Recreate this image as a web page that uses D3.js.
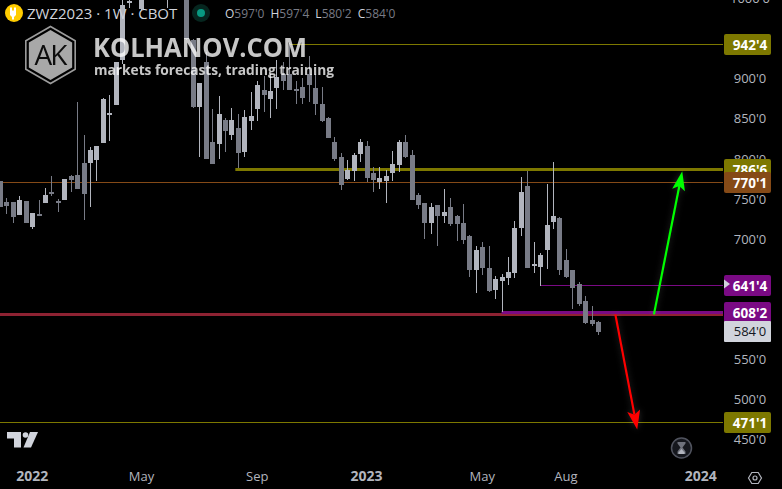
<!DOCTYPE html>
<head>
<meta charset="utf-8">
<style>
body, html { margin: 0; padding: 0; background: #000; overflow: hidden; }
svg { display: block; }
text { font-family: "Open Sans", sans-serif; }
.price-axis text { fill: #b2b5be; font-size: 13px; }
.time-axis text { fill: #b2b5be; font-size: 13px; }
.time-axis text.year { font-weight: 700; font-size: 14px; }
.level-tag text { font-size: 13.5px; font-weight: 700; fill: #fff; text-anchor: middle; }
.ohlc { font-size: 12px; fill: #787b86; }
.ohlc .k { fill: #d1d4dc; }
.title { font-size: 15px; fill: #d1d4dc; }
</style>
<script src="https://d3js.org/d3.v7.min.js"></script>
</head>
<body>
<script>

// weekly candles, prices in cents (decimal, the axis prints eighths)
var opens = [772.5,746.25,746.25,730,747.5,715,731.25,745,758.75,747.5,748.75,778.75,780,795,795,798.75,820,855,867.5,923.75,996.25,1006.25,986.25,1060,1100,1170,1040,1130,1080,1040,948.75,865,921.25,821.25,818.75,848.75,830,838.75,808.75,847.5,862.5,886.25,875,888.75,906.25,906.25,887.5,890,906.25,888.75,868.75,851.25,821.25,802.5,775,785,806.25,816.25,782.5,771.25,772.5,782.5,792.5,821.25,805,755,745,720,742.5,728.75,740,728.75,720,703.75,661.25,690,663.75,636.25,647.5,651.25,657.5,713.75,766.25,666.25,665,686.25,721.25,726.25,673.75,661.25,643.75,622.5,598.75,597];
var highs = [772.5,751.25,746.25,753.75,747.5,732.5,748.75,763.75,778.75,750,775,780,871.25,830,815,816.25,876.25,880,921.25,1000,1005,1060,1050,1130,1180,1200,1140,1140,1110,1060,950,895,933.75,862.5,878.75,851.25,863.75,856.25,861.25,883.75,897.5,903.75,906.25,923.75,921.25,945,897.5,901.25,928.75,906.25,890,852.5,827.5,807.5,798.75,807.5,825,822.5,790,790,786.25,810,823.75,830,811.25,757.5,745,745,742.5,762.5,751.25,730,743.75,705,691.25,696.25,691.25,653.75,656.25,677.5,722.5,777.5,785,696.25,682.5,768.75,796.25,727.5,687.5,661.25,646.25,628.75,616.25,597.5];
var lows = [740,731.25,720,730,720,712.5,730,745,753.75,733.75,748.75,758.75,762.5,723.75,740,772.5,820,822.5,867.5,918.75,988.75,1003,986.25,1020,1060,1090,988.75,1030,1020,948.75,863.75,802.5,800,793.75,800,808.75,823.75,788.75,802.5,836.25,847.5,858.75,851.25,862.5,886.25,886.25,868.75,868.75,871.25,855,846.25,826.25,797.5,761.25,773.75,772.5,796.25,771.25,758.75,762.5,745,772.5,783.75,801.25,748.75,737.5,700,706.25,691.25,720,716.25,697.5,693.75,652.5,632.5,655,633.75,625,608.75,642.5,651.25,703.75,663.75,657.5,641.25,662.5,712.5,655,651.25,612.5,616.25,593.75,591.25,580.25];
var closes = [740,741.25,727.5,748.75,720,732.5,730,755,756.25,745,775,773.75,762.5,756.25,811.25,816.25,875,857.5,921.25,992.5,997.5,1048.75,1036.25,1100,1160,1110,1120,1050,1040,948.75,865,895,800,793.75,856.25,835,848.75,807.5,852.5,853.75,892.5,880,885,902.5,897.5,886.25,885,876.25,892.5,868.75,847.5,826.25,800,767.5,786.25,805,821.25,776.25,773.75,776.25,778.75,793.75,821.25,802.5,748.75,742.5,720,740,728.75,733.75,718.75,718.75,698.75,661.25,686.25,663.75,635,650,652.5,658.75,713.75,758.75,663.75,668.75,680,717.5,728.75,661.25,652.5,638.75,618.75,595,593.75,584];

var priceTicks = [1000,950,900,850,800,750,700,650,550,500,450];
var timeTicks = ["2022","May","Sep","2023","May","Aug","2024"];
var timeTickWeeks = [5,22,40,57,75,88,109];

// drawn levels: price, tag text, colour, line weight, first week
var levelPrices = [942.5,786.75,770.125,641.5,605.8,608.25,471.125];
var levelLabels = ["942'4","786'6","770'1","641'4","","608'2","471'1"];
var levelColors = ["#7d7800","#7d7800","#854a17","#7a0a84","#8e2232","#7a0a84","#7d7800"];
var levelWeights = [1,3,1,1,3,3,1];
var levelStarts = [45,36.6,-1,84,-1,78,-1];

var upArrow = {from: [101.7, 606], to: [106.1, 784.5]};
var downArrow = {from: [95.7, 606], to: [99.1, 462.5]};

var lastPrice = 584;

//==========================================
var width = 782,
    height = 489,
    axisLeft = 723,
    timeTop = 461;

var svg = d3.select("body").append("svg")
    .attr("width", width)
    .attr("height", height);

var x = d3.scaleLinear().domain([0, 93]).range([0, 598]);
var y = d3.scaleLinear().domain([450, 900]).range([439.4, 78.7]);

var defs = svg.append("defs");
defs.append("clipPath").attr("id", "pane")
  .append("rect").attr("width", axisLeft).attr("height", timeTop);

var pane = svg.append("g").attr("clip-path", "url(#pane)");

//--------------------------------------
// level lines, under the candles
pane.selectAll("line.level")
    .data(d3.range(levelPrices.length))
  .enter().append("line")
    .attr("class", "level")
    .attr("x1", function(i) { return levelStarts[i] < 0 ? 0 : x(levelStarts[i]); })
    .attr("x2", axisLeft)
    .attr("y1", function(i) { return Math.floor(y(levelPrices[i])) + 0.5; })
    .attr("y2", function(i) { return Math.floor(y(levelPrices[i])) + 0.5; })
    .attr("stroke", function(i) { return levelColors[i]; })
    .attr("stroke-width", function(i) { return levelWeights[i]; });

//--------------------------------------
// candles
var candles = pane.selectAll("g.candle")
    .data(d3.range(opens.length))
  .enter().append("g")
    .attr("class", "candle")
    .attr("fill", function(i) { return closes[i] >= opens[i] ? "#b2b5be" : "#787b86"; });

candles.append("rect")
    .attr("x", function(i) { return Math.round(x(i)); })
    .attr("width", 1)
    .attr("y", function(i) { return Math.round(y(highs[i])); })
    .attr("height", function(i) { return Math.round(y(lows[i])) - Math.round(y(highs[i])); });

candles.append("rect")
    .attr("x", function(i) { return Math.round(x(i)) - 2; })
    .attr("width", 5)
    .attr("y", function(i) { return Math.round(y(Math.max(opens[i], closes[i]))); })
    .attr("height", function(i) { return Math.max(2, Math.round(Math.abs(y(opens[i]) - y(closes[i])))); });

//--------------------------------------
// arrows, barbed head with a faint glow
function drawArrow(a, color) {
  var x0 = x(a.from[0]), y0 = y(a.from[1]), x1 = x(a.to[0]), y1 = y(a.to[1]);
  var ang = Math.atan2(y1 - y0, x1 - x0);
  var len = 19, half = 6.5, notch = 15;
  var cos = Math.cos(ang), sin = Math.sin(ang);
  var bx = x1 - len * cos, by = y1 - len * sin;
  var g = pane.append("g").style("filter", "drop-shadow(0 0 3px rgba(255,255,255,.18))");
  g.append("line")
      .attr("x1", x0).attr("y1", y0).attr("x2", x1 - notch * cos).attr("y2", y1 - notch * sin)
      .attr("stroke", color).attr("stroke-width", 2.2);
  g.append("path")
      .attr("fill", color)
      .attr("d", "M" + x1 + "," + y1 +
        "L" + (bx - half * sin) + "," + (by + half * cos) +
        "L" + (x1 - notch * cos) + "," + (y1 - notch * sin) +
        "L" + (bx + half * sin) + "," + (by - half * cos) + "Z");
}
drawArrow(upArrow, "#00ff00");
drawArrow(downArrow, "#ff0000");

//--------------------------------------
// price axis
var priceAxis = d3.axisRight(y)
    .tickValues(priceTicks)
    .tickSize(0)
    .tickPadding(0)
    .tickFormat(function(d) { return d + "'0"; });

svg.append("g")
    .attr("class", "price-axis")
    .attr("transform", "translate(" + 750 + ",0)")
    .call(priceAxis)
    .call(function(g) { g.select(".domain").remove(); })
    .selectAll("text").attr("text-anchor", "middle");

//--------------------------------------
// time axis
var timeAxis = svg.append("g").attr("class", "time-axis");
timeAxis.selectAll("text")
    .data(d3.range(timeTicks.length))
  .enter().append("text")
    .attr("class", function(i) { return /^\d/.test(timeTicks[i]) ? "year" : null; })
    .attr("x", function(i) { return x(timeTickWeeks[i]); })
    .attr("y", 481)
    .attr("text-anchor", "middle")
    .text(function(i) { return timeTicks[i]; });

//--------------------------------------
// tags on the price scale
var tags = svg.selectAll("g.level-tag")
    .data(d3.range(levelPrices.length).filter(function(i) { return levelLabels[i]; }))
  .enter().append("g")
    .attr("class", "level-tag")
    .attr("transform", function(i) { return "translate(724," + (Math.floor(y(levelPrices[i])) - 10) + ")"; });

tags.append("rect")
    .attr("width", 47).attr("height", 21).attr("rx", 2)
    .attr("fill", function(i) { return levelColors[i]; });

tags.append("text")
    .attr("x", 26).attr("y", 15.5)
    .text(function(i) { return levelLabels[i]; });

// alert notch on the 641'4 tag
svg.append("path")
    .attr("fill", "#d1d4dc")
    .attr("d", "M724," + (y(641.5) - 6.5) + "l6,4.5l-6,4.5Z");

var lastTag = svg.append("g")
    .attr("transform", "translate(724," + (Math.floor(y(lastPrice)) - 10) + ")");
lastTag.append("rect")
    .attr("width", 47).attr("height", 21).attr("rx", 1).attr("fill", "#d1d4dc");
lastTag.append("text")
    .attr("x", 26).attr("y", 15).attr("text-anchor", "middle")
    .attr("font-size", 13).attr("fill", "#131722")
    .text("584'0");

//--------------------------------------
// header
svg.append("circle").attr("cx", 14).attr("cy", 13).attr("r", 9).attr("fill", "#ffcc00");
svg.append("path").attr("fill", "#fff")
    .attr("d", "M11,7.5h1v3h2v-3h1v0h1v3.5v4l-2,2v2.5h-2v-2.5l-2,-2v-4v-3.5Z");
svg.append("text").attr("class", "title").attr("x", 27).attr("y", 19)
    .text("ZWZ2023 · 1W · CBOT");

svg.append("circle").attr("cx", 201).attr("cy", 13).attr("r", 9).attr("fill", "#06261f");
svg.append("circle").attr("cx", 201).attr("cy", 13).attr("r", 4).attr("fill", "#089981");

var ohlc = svg.append("text").attr("class", "ohlc").attr("x", 225).attr("y", 18);
[["O","597'0"],["H","597'4"],["L","580'2"],["C","584'0"]].forEach(function(p, i) {
  ohlc.append("tspan").attr("class", "k").attr("dx", i ? 6 : 0).text(p[0]);
  ohlc.append("tspan").text(p[1]);
});

//--------------------------------------
// watermark
var hex = function(r) {
  return d3.range(6).map(function(k) {
    var a = Math.PI / 3 * k - Math.PI / 2;
    return [50.5 + r * Math.cos(a), 55 + r * Math.sin(a)].join(",");
  }).join(" ");
};
var mark = svg.append("g").attr("opacity", 0.78);
mark.append("polygon").attr("points", hex(28.5)).attr("fill", "none").attr("stroke", "#c8c8c8").attr("stroke-width", 1.6);
mark.append("polygon").attr("points", hex(25)).attr("fill", "#d8d8d8");
mark.append("text").attr("x", 50).attr("y", 65).attr("text-anchor", "middle")
    .attr("font-size", 28).attr("letter-spacing", -2).attr("fill", "#111").text("AK");
mark.append("text").attr("x", 93).attr("y", 57)
    .attr("font-size", 26).attr("font-weight", 700)
    .attr("textLength", 214).attr("lengthAdjust", "spacingAndGlyphs")
    .attr("fill", "#fff").text("KOLHANOV.COM");
mark.append("text").attr("x", 94).attr("y", 75)
    .attr("font-size", 14.5).attr("font-weight", 700)
    .attr("textLength", 240).attr("lengthAdjust", "spacingAndGlyphs")
    .attr("fill", "#fff").text("markets forecasts, trading training");

//--------------------------------------
// small logo and corner icons
svg.append("path").attr("fill", "#d1d4dc")
    .attr("d", "M7,432h14v15.5h-7v-9h-7Z");
svg.append("circle").attr("cx", 25.5).attr("cy", 435).attr("r", 2.8).attr("fill", "#d1d4dc");
svg.append("path").attr("fill", "#d1d4dc").attr("d", "M30,432h8l-7,15.5h-7.5Z");

svg.append("circle").attr("cx", 681.5).attr("cy", 448).attr("r", 10).attr("fill", "#15171d").attr("stroke", "#50535e").attr("stroke-width", 1.5);
svg.append("path").attr("fill", "#6f727c").attr("d", "M677.5,442h8v1.5l-3,4l3,4v2.5h-8v-2.5l3,-4l-3,-4Z");
svg.append("path").attr("fill", "#b2b5be").attr("d", "M681.5,449l3,3.5v1.5h-6v-1.5Z");

svg.append("polygon")
    .attr("fill", "none").attr("stroke", "#b2b5be").attr("stroke-width", 1.2)
    .attr("points", "748.5,478 751.8,472.5 758.2,472.5 761.5,478 758.2,483.5 751.8,483.5");
svg.append("circle").attr("cx", 755).attr("cy", 478).attr("r", 2).attr("fill", "none").attr("stroke", "#b2b5be").attr("stroke-width", 1.2);

</script>
</body>
